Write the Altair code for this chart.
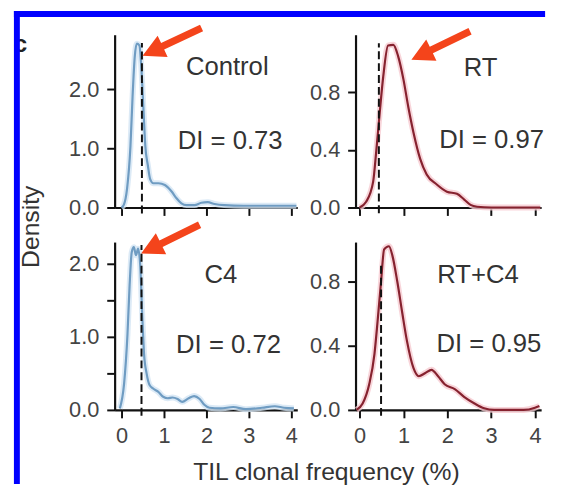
import altair as alt
import pandas as pd

# ---------------- data ----------------
ctrl_x = [0.0, 0.05, 0.13, 0.21, 0.26, 0.31, 0.36, 0.42, 0.47, 0.52, 0.56, 0.62, 0.67, 0.75, 0.87,
          1.02, 1.18, 1.29, 1.41, 1.53, 1.72, 1.88, 2.03, 2.19, 2.42, 2.88, 3.66, 4.12]
ctrl_y = [0.0, 0.04, 0.32, 1.04, 1.88, 2.54, 2.77, 2.74, 2.32, 1.6, 1.04, 0.71, 0.49, 0.41, 0.41,
          0.38, 0.27, 0.16, 0.07, 0.04, 0.04, 0.08, 0.09, 0.06, 0.04, 0.03, 0.03, 0.03]

rt_x = [0.0, 0.15, 0.31, 0.38, 0.46, 0.54, 0.65, 0.77, 0.88, 1.0, 1.11, 1.23, 1.38, 1.53, 1.76,
        1.99, 2.22, 2.38, 2.53, 2.68, 3.0, 4.12]
rt_y = [0.0, 0.04, 0.18, 0.39, 0.66, 0.91, 1.125, 1.13, 1.05, 0.89, 0.70, 0.52, 0.34, 0.23, 0.16,
        0.11, 0.095, 0.057, 0.018, 0.005, 0.0, 0.0]

c4_x = [-0.04, 0.06, 0.14, 0.19, 0.24, 0.29, 0.34, 0.39, 0.44, 0.49, 0.53, 0.59, 0.66, 0.75, 0.86,
        0.98, 1.09, 1.20, 1.32, 1.43, 1.58, 1.71, 1.84, 1.95, 2.07, 2.33, 2.63, 2.93, 3.31, 3.61,
        3.83, 4.06]
c4_y = [0.02, 0.36, 1.04, 1.71, 2.16, 2.23, 2.12, 2.21, 1.98, 1.26, 0.77, 0.50, 0.34, 0.29, 0.25,
        0.18, 0.16, 0.17, 0.15, 0.11, 0.16, 0.19, 0.15, 0.07, 0.03, 0.02, 0.04, 0.01, 0.03, 0.05,
        0.03, 0.02]

rtc4_x = [-0.07, 0.07, 0.22, 0.34, 0.41, 0.49, 0.56, 0.67, 0.75, 0.86, 0.97, 1.08, 1.23, 1.35,
          1.50, 1.64, 1.79, 1.94, 2.17, 2.39, 2.62, 2.84, 3.07, 3.74, 4.0, 4.1]
rtc4_y = [0.0, 0.04, 0.16, 0.35, 0.55, 0.80, 1.00, 1.02, 0.96, 0.80, 0.61, 0.43, 0.26, 0.21,
          0.23, 0.25, 0.21, 0.16, 0.13, 0.08, 0.04, 0.01, 0.0, 0.0, 0.014, 0.025]

group_names = ["Control", "RT", "C4", "RT+C4"]
di_labels = ["DI = 0.73", "DI = 0.97", "DI = 0.72", "DI = 0.95"]
medians = [0.48, 0.44, 0.47, 0.49]
x_ticks = [0, 1, 2, 3, 4]

FONT = "Liberation Sans"
BLUE, BLUE_GLOW = "#6f9cc2", "#d3e5f4"
RED, RED_GLOW = "#86222f", "#f6cbd1"
ARROW_COLOR = "#f4441b"
ARROW_PATH = "M1,0 L0.32,-0.36 L0.32,-0.11 L-1,-0.11 L-1,0.11 L0.32,0.11 L0.32,0.36 Z"


def panel(xs, ys, med, dash_lo, dash_hi, xdom, ydom, w, h, yticks, ylabels,
          color, glow, name, name_pos, di, di_pos, arrow=None, xlabels=False,
          ytitle=None, xtitle=None, extra=None):
    curve = pd.DataFrame({"x": xs, "y": ys})
    label_test = " || ".join(f"datum.value == {v}" for v in ylabels)
    xaxis = alt.Axis(values=x_ticks, labels=xlabels, title=xtitle, format="d",
                     labelPadding=8)
    if xtitle:
        xaxis = alt.Axis(values=x_ticks, labels=xlabels, title=xtitle, format="d",
                         labelPadding=8, titleX=214, titleY=70,
                         titleBaseline="alphabetic", titleAnchor="start", titleAlign="center")
    yaxis = alt.Axis(values=yticks, title=ytitle,
                     labelExpr=f"({label_test}) ? format(datum.value, '.1f') : ''",
                     labelPadding=8)
    if ytitle:
        yaxis = alt.Axis(values=yticks, title=ytitle,
                         labelExpr=f"({label_test}) ? format(datum.value, '.1f') : ''",
                         labelPadding=8, titleX=-77, titleY=194, titleAngle=270,
                         titleAlign="center", titleBaseline="alphabetic")
    X = alt.X("x:Q", scale=alt.Scale(domain=xdom, nice=False, zero=False), axis=xaxis)
    Y = alt.Y("y:Q", scale=alt.Scale(domain=ydom, nice=False), axis=yaxis)
    Xn = alt.X("x:Q", scale=alt.Scale(domain=xdom, nice=False, zero=False))
    Yn = alt.Y("y:Q", scale=alt.Scale(domain=ydom, nice=False))

    layers = []
    if extra is not None:
        layers += extra
    g = alt.Chart(curve).mark_line(color=glow, strokeWidth=6, opacity=0.8,
                                   interpolate="monotone").encode(x=X, y=Y)
    m = alt.Chart(curve).mark_line(color=color, strokeWidth=2.2,
                                   interpolate="monotone").encode(x=Xn, y=Yn)
    d = alt.Chart(pd.DataFrame({"x": [med], "y": [dash_lo], "y2": [dash_hi]})).mark_rule(
        color="#111", strokeWidth=2, strokeDash=[8, 4]).encode(x=Xn, y=Yn, y2="y2:Q")
    t = alt.Chart(pd.DataFrame({"x": [name_pos[0], di_pos[0]], "y": [name_pos[1], di_pos[1]],
                                "t": [name, di]})).mark_text(
        font=FONT, fontSize=26, color="#333", align="center", baseline="middle").encode(
        x=Xn, y=Yn, text="t:N")
    layers = [g] + layers + [m, d, t]
    if arrow is not None:
        a = alt.Chart(pd.DataFrame({"x": [arrow[0]], "y": [arrow[1]]})).mark_point(
            shape=ARROW_PATH, filled=True, size=4356, angle=arrow[2], color=ARROW_COLOR,
            opacity=1, strokeWidth=0).encode(x=Xn, y=Yn)
        layers.append(a)
    return alt.layer(*layers).properties(width=w, height=h)


one = pd.DataFrame({"k": [0]})
frame = [
    alt.Chart(one).mark_text(text="c", font=FONT, fontSize=25, fontWeight="bold",
                             color="#222", align="right", baseline="alphabetic").encode(
        x=alt.value(-88.5), y=alt.value(17)),
    alt.Chart(one).mark_rect(color="#0000ff").encode(
        x=alt.value(-102), x2=alt.value(-96), y=alt.value(-24), y2=alt.value(455)),
    alt.Chart(one).mark_rect(color="#0000ff").encode(
        x=alt.value(-102), x2=alt.value(436), y=alt.value(-24), y2=alt.value(-18)),
]

tl = panel(ctrl_x, ctrl_y, medians[0], -0.1, 2.78, [-0.163, 4.14], [0, 2.92], 185, 175,
           [0, 0.5, 1, 1.5, 2, 2.5], [0, 1, 2], BLUE, BLUE_GLOW,
           group_names[0], (2.49, 2.37), di_labels[0], (2.56, 1.13),
           arrow=(1.19, 2.8, 154.8), ytitle="Density", extra=frame)
tr = panel(rt_x, rt_y, medians[1], -0.04, 1.14, [-0.092, 4.14], [0, 1.2], 188, 175,
           [0, 0.2, 0.4, 0.6, 0.8, 1.0], [0, 0.4, 0.8], RED, RED_GLOW,
           group_names[1], (2.76, 0.97), di_labels[1], (3.01, 0.47),
           arrow=(1.85, 1.125, 154.2))
bl = panel(c4_x, c4_y, medians[2], -0.08, 2.26, [-0.163, 4.14], [0, 2.3], 185, 170,
           [0, 0.5, 1, 1.5, 2], [0, 1, 2], BLUE, BLUE_GLOW,
           group_names[2], (2.34, 1.85), di_labels[2], (2.52, 0.89),
           arrow=(1.15, 2.34, 153.8), xlabels=True, xtitle="TIL clonal frequency (%)")
br = panel(rtc4_x, rtc4_y, medians[3], -0.037, 0.9, [-0.092, 4.14], [0, 1.046], 188, 170,
           [0, 0.2, 0.4, 0.6, 0.8, 1.0], [0, 0.4, 0.8], RED, RED_GLOW,
           group_names[3], (2.70, 0.84), di_labels[3], (2.95, 0.41), xlabels=True)

chart = alt.concat(tl, tr, bl, br, columns=2, spacing={"row": 35, "column": 59},
                   bounds="flush").properties(
    padding={"left": 5, "top": 0, "right": 0, "bottom": 0},
    background="white",
).configure_view(stroke=None).configure_axis(
    grid=False, domainColor="#111", domainWidth=2.2, tickColor="#111", tickWidth=2,
    tickSize=8, labelFont=FONT, labelFontSize=22, labelColor="#444", labelFlush=False,
    labelOverlap=False, titleFont=FONT, titleFontSize=25, titleColor="#333",
    titleFontWeight="normal",
)

chart.save("out.html", embed_options={"renderer": "svg", "actions": False})
